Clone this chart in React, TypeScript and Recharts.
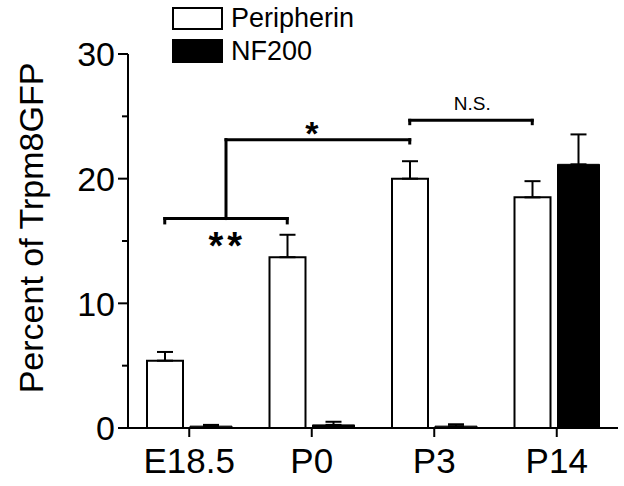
import { BarChart, Bar, XAxis, YAxis, ErrorBar, Legend, ReferenceLine, ReferenceDot } from 'recharts';

const FONT = '"Liberation Sans", Arial, Helvetica, sans-serif';

const categories = ['E18.5', 'P0', 'P3', 'P14'];
const seriesNames = ['Peripherin', 'NF200'];
const peripherin = [5.4, 13.7, 20.0, 18.5];
const peripherinErr = [0.7, 1.8, 1.4, 1.3];
const nf200 = [0.15, 0.25, 0.15, 21.15];
const nf200Err = [0.1, 0.25, 0.15, 2.4];

const yTicks = [0, 5, 10, 15, 20, 25, 30];
const yLabelled = [0, 10, 20, 30];

// significance brackets: x in category units (0..4), y in percent
const brackets = [
  { x1: 0.3, x2: 1.3, y: 16.8, foot: 16.45, left: true, right: true },
  { x1: 0.8, x2: 2.3, y: 23.13, foot: 22.86, left: false, right: true },
  { x1: 2.3, x2: 3.3, y: 24.68, foot: 24.41, left: true, right: true },
];
// stem joining the "**" bracket to the "*" bracket
const stem = { x: 0.8, y1: 16.8, y2: 23.13 };

const sigLabels = [
  { x: 0.81, y: 14.66, text: '**', size: 38, spacing: 4, weight: 'bold' },
  { x: 1.5, y: 23.67, text: '*', size: 34, spacing: 0, weight: 'bold' },
  { x: 2.81, y: 26.06, text: 'N.S.', size: 19, spacing: 0, weight: 'normal' },
];

const data = categories.map((name, i) => ({
  name,
  slot: i + 0.5,
  peripherin: peripherin[i],
  pErr: [0, peripherinErr[i]],
  nf200: nf200[i],
  nErr: [0, nf200Err[i]],
}));

const segments: { a: { x: number; y: number }; b: { x: number; y: number } }[] = [];
brackets.forEach((br) => {
  segments.push({ a: { x: br.x1, y: br.y }, b: { x: br.x2, y: br.y } });
  if (br.left) segments.push({ a: { x: br.x1, y: br.y }, b: { x: br.x1, y: br.foot } });
  if (br.right) segments.push({ a: { x: br.x2, y: br.y }, b: { x: br.x2, y: br.foot } });
});
segments.push({ a: { x: stem.x, y: stem.y1 }, b: { x: stem.x, y: stem.y2 } });

const YTick = (props: any) => {
  const { x, y, payload } = props;
  const major = yLabelled.includes(payload.value);
  return (
    <g>
      <line x1={x - (major ? 10 : 6)} x2={x} y1={y} y2={y} stroke="#000" strokeWidth={2} />
      {major && (
        <text x={x - 13} y={y} dy="0.36em" textAnchor="end" fontSize={34} fontFamily={FONT} fill="#000">
          {payload.value}
        </text>
      )}
    </g>
  );
};

const renderYLabel = (props: any) => {
  const vb = props.viewBox || {};
  const cx = vb.x + vb.width - 85;
  const cy = vb.y + vb.height / 2 - 13;
  return (
    <text
      x={cx}
      y={cy}
      transform={`rotate(-90, ${cx}, ${cy})`}
      textAnchor="middle"
      fontSize={34}
      fontFamily={FONT}
      fill="#000"
    >
      Percent of Trpm8GFP
    </text>
  );
};

const renderLegend = (props: any) => {
  const payload = [...(props.payload || [])].sort(
    (a: any, b: any) => seriesNames.indexOf(a.value) - seriesNames.indexOf(b.value)
  );
  return (
    <div style={{ fontFamily: FONT, fontSize: 27, color: '#000', textAlign: 'left' }}>
      {payload.map((entry: any, i: number) => (
        <div
          key={entry.value}
          style={{ display: 'flex', alignItems: 'center', height: i === 0 ? 23 : 24, marginBottom: 9 }}
        >
          <span
            style={{
              display: 'inline-block',
              width: 51,
              height: '100%',
              boxSizing: 'border-box',
              border: '2px solid #000',
              background: entry.color,
              marginRight: 8,
            }}
          />
          <span style={{ lineHeight: 1 }}>{entry.value}</span>
        </div>
      ))}
    </div>
  );
};

export default function App() {
  return (
    <div style={{ position: 'absolute', left: 0, top: 0, width: 624, height: 486, background: '#fff' }}>
      <BarChart
        width={624}
        height={486}
        data={data}
        barGap={7}
        margin={{ top: 54, right: 6, bottom: 0, left: 0 }}
      >
        <XAxis
          dataKey="name"
          height={58}
          interval={0}
          tickSize={9}
          tickMargin={11}
          axisLine={{ stroke: '#000', strokeWidth: 2 }}
          tickLine={{ stroke: '#000', strokeWidth: 2 }}
          tick={{ fill: '#000', fontSize: 35, fontFamily: FONT }}
        />
        <XAxis
          xAxisId="pos"
          dataKey="slot"
          type="number"
          scale="linear"
          domain={[0, 4]}
          allowDataOverflow
          hide
        />
        <YAxis
          width={128}
          domain={[0, 30]}
          ticks={yTicks}
          interval={0}
          tickSize={0}
          tickMargin={0}
          axisLine={{ stroke: '#000', strokeWidth: 2 }}
          tickLine={false}
          tick={<YTick />}
          label={{ content: renderYLabel }}
        />
        <Legend
          content={renderLegend}
          layout="horizontal"
          align="center"
          verticalAlign="middle"
          wrapperStyle={{ left: 172, top: 7, width: 250 }}
        />
        <Bar
          dataKey="peripherin"
          name="Peripherin"
          fill="#fff"
          stroke="#000"
          strokeWidth={2}
          barSize={36}
          isAnimationActive={false}
        >
          <ErrorBar dataKey="pErr" direction="y" width={8} stroke="#000" strokeWidth={2} />
        </Bar>
        <Bar
          dataKey="nf200"
          name="NF200"
          fill="#000"
          stroke="#000"
          strokeWidth={1}
          barSize={42}
          isAnimationActive={false}
        >
          <ErrorBar dataKey="nErr" direction="y" width={8} stroke="#000" strokeWidth={2} />
        </Bar>
        {segments.map((s, i) => (
          <ReferenceLine
            key={`seg-${i}`}
            xAxisId="pos"
            segment={[s.a, s.b]}
            stroke="#000"
            strokeWidth={3}
            strokeLinecap="square"
            ifOverflow="visible"
          />
        ))}
        {sigLabels.map((l) => (
          <ReferenceDot
            key={l.text}
            xAxisId="pos"
            x={l.x}
            y={l.y}
            r={0}
            fill="none"
            stroke="none"
            ifOverflow="visible"
            label={{
              value: l.text,
              position: 'center',
              fill: '#000',
              fontSize: l.size,
              fontWeight: l.weight,
              fontFamily: FONT,
              style: { letterSpacing: l.spacing },
            }}
          />
        ))}
      </BarChart>
    </div>
  );
}
